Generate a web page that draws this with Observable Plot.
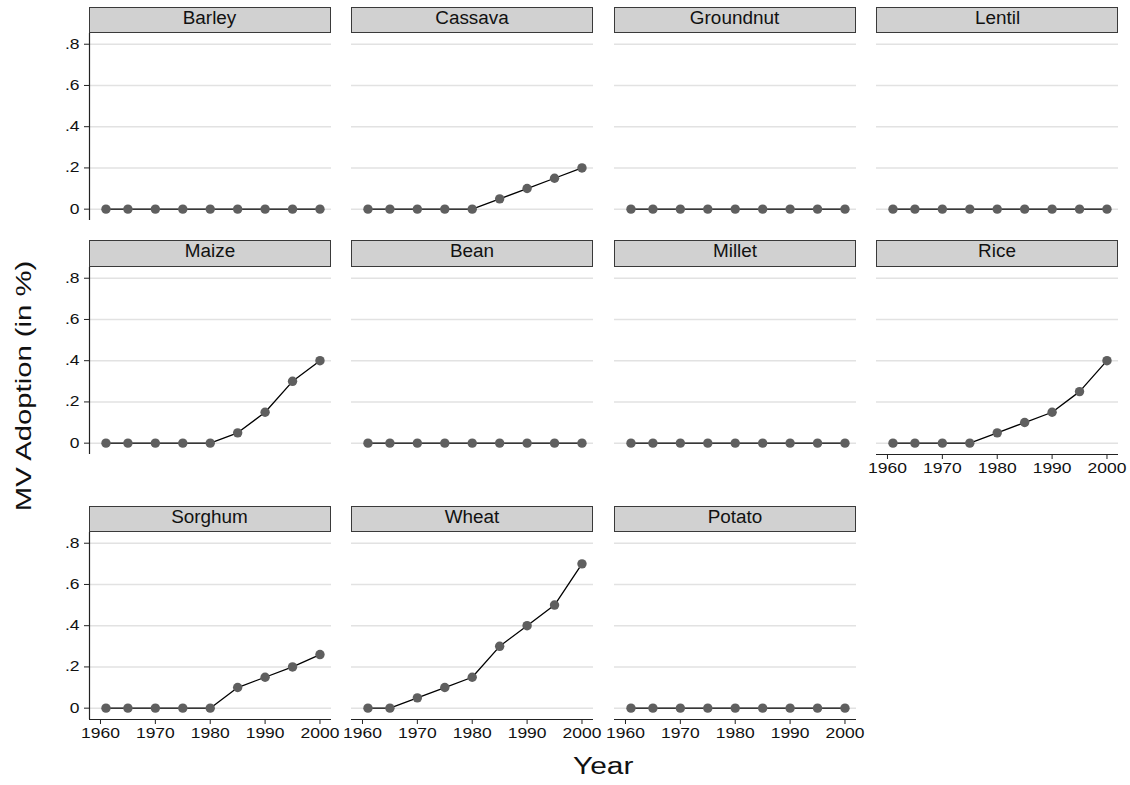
<!DOCTYPE html>
<html>
<head>
<meta charset="utf-8">
<script src="https://cdn.jsdelivr.net/npm/d3@7"></script>
<script src="https://cdn.jsdelivr.net/npm/@observablehq/plot@0.6"></script>
<style>
  html, body { margin: 0; padding: 0; background: #fff; }
  #chart { position: relative; width: 1130px; height: 785px; overflow: hidden; background: #fff;
           font-family: "Liberation Sans", Arial, Helvetica, sans-serif; color: #111; }
  .panel { position: absolute; }
  .panel svg { max-width: none !important; }
  .strip { position: absolute; box-sizing: border-box; border: 1px solid #3a3a3a; background: #d1d1d1;
           text-align: center; font-size: 18px; color: #111; }
  .strip span { display: inline-block; transform: scaleX(1.05); }
  .ytitle { position: absolute; font-size: 22px; line-height: 22px; white-space: nowrap; transform-origin: center center; }
  .xtitle { position: absolute; font-size: 23px; line-height: 23px; white-space: nowrap; transform-origin: center center; }
</style>
</head>
<body>
<div id="chart"></div>
<script>
// ---- data ----
const crops = ["Barley", "Cassava", "Groundnut", "Lentil", "Maize", "Bean", "Millet", "Rice", "Sorghum", "Wheat", "Potato"];
const years = [1961, 1965, 1970, 1975, 1980, 1985, 1990, 1995, 2000];
const barley    = [0, 0, 0, 0, 0, 0, 0, 0, 0];
const cassava   = [0, 0, 0, 0, 0, 0.05, 0.10, 0.15, 0.20];
const groundnut = [0, 0, 0, 0, 0, 0, 0, 0, 0];
const lentil    = [0, 0, 0, 0, 0, 0, 0, 0, 0];
const maize     = [0, 0, 0, 0, 0, 0.05, 0.15, 0.30, 0.40];
const bean      = [0, 0, 0, 0, 0, 0, 0, 0, 0];
const millet    = [0, 0, 0, 0, 0, 0, 0, 0, 0];
const rice      = [0, 0, 0, 0, 0.05, 0.10, 0.15, 0.25, 0.40];
const sorghum   = [0, 0, 0, 0, 0, 0.10, 0.15, 0.20, 0.26];
const wheat     = [0, 0, 0.05, 0.10, 0.15, 0.30, 0.40, 0.50, 0.70];
const potato    = [0, 0, 0, 0, 0, 0, 0, 0, 0];
const series = [barley, cassava, groundnut, lentil, maize, bean, millet, rice, sorghum, wheat, potato];
const yTicks = [0, 0.2, 0.4, 0.6, 0.8];
const yTickLabels = ["0", ".2", ".4", ".6", ".8"];
const xTicks = [1960, 1970, 1980, 1990, 2000];
const xTitle = "Year";
const yTitle = "MV Adoption (in %)";

// ---- layout ----
const xDomain = [1958, 2002.1];
const yDomain = [-0.055, 0.852];
const colLeft = [88.7, 351.2, 613.7, 876.2];
const rowTop = [33, 266.5, 532];
const frameW = 242, frameH = 187, stripH = 26.5;
const font = '"Liberation Sans", Arial, Helvetica, sans-serif';
const tickFont = 14, textStretch = 1.25;

const chart = document.getElementById("chart");

function widen(svg, k, size) {
  svg.querySelectorAll("text").forEach(t => {
    t.setAttribute("font-size", size);
    const tr = t.getAttribute("transform");
    if (tr) {
      t.setAttribute("transform", tr + ` scale(${k},1)`);
    } else {
      const x = +t.getAttribute("x") || 0, y = +t.getAttribute("y") || 0;
      t.removeAttribute("x"); t.removeAttribute("y");
      t.setAttribute("transform", `translate(${x},${y}) scale(${k},1)`);
    }
  });
}

crops.forEach((crop, i) => {
  const col = i % 4, row = Math.floor(i / 4);
  const hasX = row === 2 || (row === 1 && col === 3);
  const hasY = col === 0;
  const data = years.map((yr, j) => ({year: yr, value: series[i][j]}));
  const mL = hasY ? 70 : 12, mR = col === 3 ? 10 : 16, mT = 12, mB = hasX ? 45 : 12;

  const marks = [
    Plot.gridY(yTicks, {stroke: "#e2e2e2", strokeOpacity: 1, strokeWidth: 1.5}),
  ];
  if (hasY) {
    marks.push(Plot.ruleX([xDomain[0]], {stroke: "#222", strokeWidth: 1.2}));
    marks.push(Plot.axisY({ticks: yTicks, tickFormat: d => yTickLabels[yTicks.indexOf(d)],
      tickSize: 5, tickPadding: 5, fontSize: tickFont, label: null, stroke: "#222", fill: "#111"}));
  }
  if (hasX) {
    marks.push(Plot.ruleY([yDomain[0]], {stroke: "#222", strokeWidth: 1.2}));
    marks.push(Plot.axisX({ticks: xTicks, tickFormat: d => String(d),
      tickSize: 5, tickPadding: 4, fontSize: tickFont, label: null, stroke: "#222", fill: "#111"}));
  }
  marks.push(Plot.line(data, {x: "year", y: "value", stroke: "#000", strokeWidth: 1.3}));
  marks.push(Plot.dot(data, {x: "year", y: "value", r: 4.7, fill: "#5f5f5f", stroke: "none"}));

  const svg = Plot.plot({
    width: mL + frameW + mR,
    height: mT + frameH + mB,
    marginLeft: mL, marginRight: mR, marginTop: mT, marginBottom: mB,
    x: {domain: xDomain, axis: null},
    y: {domain: yDomain, axis: null},
    style: {background: "none", overflow: "visible", fontFamily: font, fontSize: tickFont + "px", color: "#111", maxWidth: "none"},
    marks
  });
  widen(svg, textStretch, tickFont);
  const wrap = document.createElement("div");
  wrap.className = "panel";
  wrap.style.left = (colLeft[col] - mL) + "px";
  wrap.style.top = (rowTop[row] - mT) + "px";
  wrap.appendChild(svg);
  chart.appendChild(wrap);

  const strip = document.createElement("div");
  strip.className = "strip";
  strip.style.left = colLeft[col] + "px";
  strip.style.top = (rowTop[row] - stripH) + "px";
  strip.style.width = frameW + "px";
  strip.style.height = stripH + "px";
  strip.style.lineHeight = (stripH - 5) + "px";
  const sp = document.createElement("span");
  sp.textContent = crop;
  strip.appendChild(sp);
  chart.appendChild(strip);
});

const xt = document.createElement("div");
xt.className = "xtitle";
xt.textContent = xTitle;
chart.appendChild(xt);
xt.style.left = (603 - xt.offsetWidth / 2) + "px";
xt.style.top = "755px";
xt.style.transform = "scaleX(1.3)";

const yt = document.createElement("div");
yt.className = "ytitle";
yt.textContent = yTitle;
chart.appendChild(yt);
yt.style.left = (23.5 - yt.offsetWidth / 2) + "px";
yt.style.top = (386 - yt.offsetHeight / 2) + "px";
yt.style.transform = "rotate(-90deg) scaleX(1.33)";
</script>
</body>
</html>
